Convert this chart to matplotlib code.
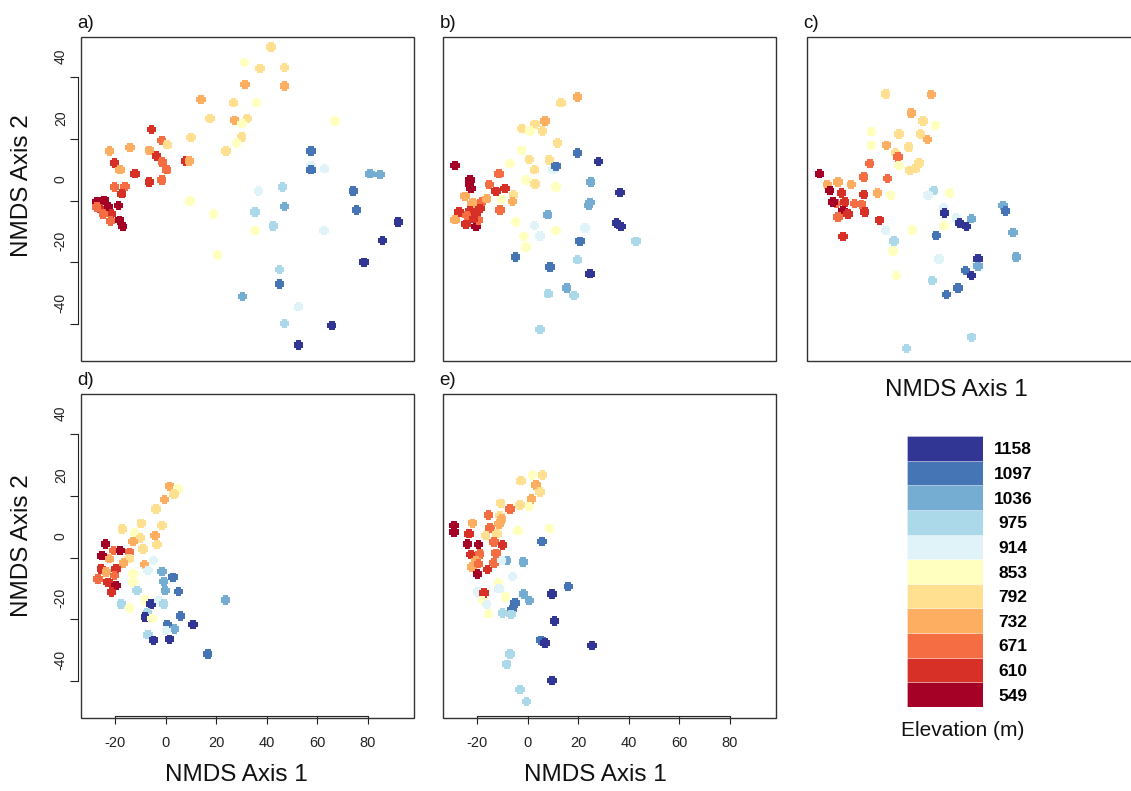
import matplotlib
matplotlib.use("Agg")
import matplotlib.pyplot as plt
import matplotlib.transforms as mtransforms
from matplotlib.patches import Rectangle
from matplotlib.path import Path

plt.rcParams['font.family'] = ['Liberation Sans', 'DejaVu Sans']
plt.rcParams['axes.unicode_minus'] = False

# elevation classes (m) and their colours (RdYlBu, low = red)
ELEV = [549, 610, 671, 732, 792, 853, 914, 975, 1036, 1097, 1158]
COLORS = ['#a50026', '#d73027', '#f46d43', '#fdae61', '#fee090', '#ffffbf',
          '#e0f3f8', '#abd9e9', '#74add1', '#4575b4', '#313695']

# panel a)
a_x = [41.7, 31.2, 37.3, 47.0, 31.4, 47.0, 14.0, 26.8, 36.0, 17.6, 27.2, 32.3, 30.2, 67.0,
       -5.5, 10.1, 30.1, 28.1, -1.5, 0.7, -22.2, -14.0, -6.4, 23.9, -3.5, -20.2, -1.3, 8.1,
       9.4, -18.0, 0.5, -12.1, -6.4, -1.5, -20.2, -16.0, -17.3, 9.7, 18.9, 20.5,
       -27.2, -24.3, -25.9, -22.6, -18.6, -21.3, -24.6, -21.7, -18.2, -16.9, -27.2,
       57.5, 57.5, 57.5, 62.8, 80.8, 84.8, 74.2, 75.5, 92.0, 85.8, 78.5, 36.7, 46.2, 47.0,
       35.4, 35.4, 42.6, 62.6, 45.0, 45.0, 30.4, 52.5, 47.0, 65.7, 52.5]
a_y = [49.8, 44.7, 42.8, 43.1, 37.6, 37.1, 32.7, 31.7, 31.7, 26.6, 26.0, 26.6, 25.0, 25.8,
       23.0, 20.4, 20.6, 18.7, 19.5, 18.1, 16.1, 17.2, 16.3, 16.1, 14.4, 12.2, 12.5, 12.8,
       12.8, 10.0, 10.0, 8.7, 6.0, 6.6, 4.4, 4.6, 2.2, -0.2, -4.3, -17.6,
       -0.5, 0.1, -2.6, -2.1, -1.6, -4.3, -4.3, -6.6, -6.4, -8.4, -2.1,
       16.1, 11.4, 10.0, 10.3, 8.7, 8.4, 3.1, -3.0, -7.0, -12.9, -20.0, 3.1, 4.4, -1.9,
       -3.7, -9.7, -8.3, -9.7, -22.4, -27.0, -31.1, -34.4, -39.8, -40.5, -46.8]
a_elev = [792, 853, 792, 792, 732, 732, 732, 792, 853, 792, 732, 792, 853, 853,
          610, 792, 792, 853, 671, 792, 732, 732, 732, 792, 610, 610, 671, 610,
          732, 732, 671, 610, 610, 671, 671, 671, 610, 853, 853, 853,
          549, 549, 610, 549, 549, 610, 671, 671, 549, 549, 671,
          1097, 914, 1097, 914, 1036, 1036, 1097, 1097, 1158, 1158, 1158, 914, 975, 1036,
          975, 853, 975, 914, 975, 1097, 1036, 914, 975, 1158, 1158]

# panel b)
b_x = [19.7, 13.2, 6.9, 3.0, -2.3, 1.0, 5.9, 11.9, -2.3, 0.7, 8.6, 19.7, 28.0, 10.0, 11.3,
       -6.9, 2.7, -28.7, -22.7, -22.4, -23.0, -11.3, -0.6, 3.0, 11.3, 25.0, -15.1, -12.5,
       -8.9, -5.6, -10.2, -5.9, 24.7, 24.2, 36.6, -24.7, -21.4, -18.1, -16.1, -22.1,
       -27.0, -22.7, -18.8, -20.1, -24.0, -28.7, -24.3, -20.4, -19.4, -21.4, -10.9,
       8.0, -4.7, 2.7, 4.9, 11.3, 22.7, 35.2, 37.0, -1.4, -0.6, 20.7, 42.9, -4.7, 8.9,
       19.7, 24.7, 8.2, 15.5, 18.4, 4.9]
b_y = [33.6, 31.7, 25.8, 24.7, 23.3, 22.5, 22.5, 18.7, 16.3, 13.3, 13.1, 15.4, 12.7, 10.0, 11.1,
       12.0, 10.0, 11.4, 6.6, 3.9, 5.2, 8.7, 6.6, 5.3, 4.4, 6.0, 5.2, 3.0,
       3.9, 1.8, 0.4, -0.3, -0.6, -1.6, 2.6, 1.4, -0.8, -0.5, 0.6, -1.0,
       -3.7, -3.2, -2.6, -4.3, -4.8, -6.2, -7.7, -8.4, -6.4, -5.9, -3.0,
       -4.6, -7.0, -8.1, -11.5, -9.7, -8.9, -7.3, -8.4, -11.6, -15.1, -13.2, -13.2, -18.3, -21.6,
       -19.2, -23.7, -30.2, -28.3, -30.8, -41.8]
b_elev = [732, 792, 732, 792, 792, 853, 792, 792, 853, 792, 792, 1097, 1158, 914, 1097,
          853, 792, 549, 549, 549, 549, 671, 853, 792, 853, 1036, 671, 610,
          610, 792, 853, 732, 1036, 1036, 1158, 732, 732, 671, 732, 732,
          610, 610, 610, 610, 671, 732, 610, 549, 671, 610, 671,
          1036, 853, 914, 914, 853, 914, 1158, 1158, 853, 853, 1097, 975, 1097, 1097,
          975, 1158, 975, 1036, 975, 975]

# panel c)
c_x = [-2.3, 15.7, 7.8, 12.4, 17.3, -8.0, 3.0, 11.5, 14.2, -8.0, -2.0, 6.8, 1.6, 2.6,
       -8.6, 3.0, 7.2, 10.9, 9.2, -28.4, -25.4, -21.1, -15.9, -11.0, -1.6, -24.4, -19.8,
       -11.0, -5.6, -0.3, 16.7, 14.4, 23.0, -21.8, -18.5, -14.6, -11.9, -23.1, -19.1,
       -21.1, -17.2, -10.6, -4.7, -19.1, 20.6, 21.0, 31.6, 25.6, 26.9, 29.6, 20.8,
       44.1, 45.1, 48.0, 49.3, -2.3, 8.2, 17.7, 1.0, 0.6, 34.2, 34.2, 29.3, 31.6,
       18.8, 1.9, 16.1, 26.3, 21.7, 31.6, 5.9]
c_y = [34.5, 34.4, 28.4, 25.8, 24.4, 22.3, 21.5, 21.5, 19.8, 17.9, 17.9, 17.4, 15.4, 14.1,
       12.0, 11.4, 9.8, 12.2, 10.3, 8.7, 5.2, 6.0, 5.2, 7.6, 7.1, 3.3, 2.4,
       2.0, 2.4, 1.7, 3.3, 1.7, 2.4, -1.0, -0.5, -1.0, -1.2, -0.5, -3.2,
       -5.3, -4.3, -3.7, -6.4, -11.6, -2.3, -4.0, -5.9, -5.6, -7.3, -8.4, -8.1,
       -1.6, -3.4, -10.4, -18.3, -9.7, -9.5, -11.3, -13.1, -16.4, -18.9, -21.3, -22.7, -24.3,
       -18.9, -24.3, -25.9, -28.3, -30.5, -44.3, -47.9]
c_elev = [792, 732, 732, 792, 853, 853, 792, 792, 732, 853, 732, 792, 792, 671,
          671, 853, 792, 792, 792, 549, 732, 732, 732, 671, 671, 549, 610,
          610, 732, 853, 975, 914, 853, 671, 610, 671, 671, 549, 549,
          671, 610, 610, 610, 610, 914, 1158, 1036, 914, 1158, 1158, 853,
          1036, 1097, 1036, 1036, 914, 853, 1097, 975, 853, 1158, 1036, 1097, 1158,
          914, 853, 975, 1097, 1097, 975, 975]

# panel d)
d_x = [1.6, 4.9, 3.3, -0.4, -3.7, -9.6, -1.4, -17.1, -12.2, -9.9, -4.1, -12.9, -3.4, -8.9,
       -23.7, -20.5, -17.9, -25.1, -14.2, -22.1, -14.5, -16.6, -4.7, -8.3, -7.0,
       -25.4, -19.5, -23.4, -20.1, -26.7, -22.7, -19.5, -21.4, -12.9, -12.9,
       -1.4, 2.9, -0.7, -0.1, 5.1, -11.2, -17.5, -14.2, -8.0, -5.7, -2.6, -0.7, 23.7,
       5.9, -7.2, -8.0, -5.3, 10.8, 0.7, 3.6, 0.3, -7.0, -4.7, 1.6, 16.7]
d_y = [23.1, 22.2, 20.6, 18.8, 15.7, 11.1, 10.4, 9.3, 8.0, 6.3, 7.1, 5.2, 4.2, 2.8,
       4.4, 2.3, 2.3, 0.6, 1.7, -0.4, -0.4, -1.8, -1.0, -2.3, -4.2,
       -3.7, -3.7, -4.7, -5.8, -6.9, -8.0, -9.1, -11.2, -5.3, -8.0,
       -4.5, -6.4, -7.8, -10.7, -11.0, -10.7, -15.0, -16.3, -13.7, -15.0, -13.9, -15.0, -13.7,
       -19.0, -18.0, -19.3, -19.8, -21.7, -21.7, -23.1, -23.6, -25.0, -26.8, -26.5, -31.2]
d_elev = [732, 853, 792, 732, 792, 792, 792, 792, 853, 792, 732, 732, 792, 792,
          549, 671, 549, 549, 671, 732, 792, 732, 914, 732, 914,
          610, 610, 732, 671, 671, 610, 549, 610, 853, 853,
          1036, 1097, 1036, 1036, 1097, 975, 975, 853, 853, 1158, 914, 975, 1036,
          1097, 975, 1158, 853, 1158, 1097, 1036, 914, 975, 1158, 1158, 1097]

# panel e)
e_x = [2.0, 5.9, -2.6, 3.3, 4.9, 1.6, -10.6, -2.9, 0.7, -7.0, -15.4, -10.9, -10.2, -21.8,
       -29.0, -29.0, -14.8, -11.2, -3.7, 8.8, -23.1, -16.5, -12.1, -23.7, -19.4, -13.2,
       -9.9, 5.7, -22.4, -18.9, -12.5, -20.4, -13.2, -22.0, -19.4, -15.8, -19.8,
       -8.2, -1.7, -10.2, -5.9, -11.5, -11.2, -19.5, -17.2, -8.8, -17.8, -16.1,
       -1.6, 0.7, -5.0, -6.2, -15.4, -9.9, -6.6, 9.6, 16.1, 10.6, 5.3, 6.9, 25.5,
       -6.9, -8.2, 9.6, -3.0, -0.4]
e_y = [26.7, 26.7, 24.9, 23.5, 21.3, 19.0, 17.6, 17.0, 16.5, 15.7, 13.8, 13.6, 12.5, 11.1,
       10.4, 8.2, 9.6, 10.9, 8.7, 9.5, 7.7, 7.1, 7.7, 4.4, 4.2, 5.0,
       4.1, 5.2, 1.0, 1.2, 1.4, -1.0, -1.8, -3.1, -2.0, -3.9, -5.3,
       -1.0, -1.5, -1.0, -6.1, -8.3, -10.1, -11.2, -11.5, -12.8, -13.9, -15.2,
       -11.8, -13.9, -14.7, -16.8, -18.2, -18.0, -18.4, -11.8, -9.4, -20.6, -26.8, -27.7, -28.5,
       -31.2, -34.6, -39.8, -42.8, -46.6]
e_elev = [853, 792, 792, 732, 792, 732, 792, 792, 853, 671, 671, 792, 732, 732,
          549, 549, 671, 732, 853, 853, 610, 792, 792, 549, 549, 671,
          610, 1097, 610, 671, 671, 732, 671, 732, 671, 610, 549,
          1036, 1036, 914, 914, 853, 914, 914, 610, 853, 853, 914,
          1036, 1036, 1097, 1097, 853, 975, 975, 1158, 1097, 1158, 1097, 1158, 1158,
          975, 975, 1158, 975, 975]

W, H = 1131, 791
fig = plt.figure(figsize=(W / 100, H / 100), dpi=100)

# chunky plus marker (arms 60% of the width)
_a, _b = 0.3, 0.5
PLUS = Path([(-_a, _b), (_a, _b), (_a, _a), (_b, _a), (_b, -_a), (_a, -_a), (_a, -_b),
             (-_a, -_b), (-_a, -_a), (-_b, -_a), (-_b, _a), (-_a, _a), (-_a, _b)])


def px_axes(left, top, right, bottom):
    return fig.add_axes([left / W, 1 - bottom / H, (right - left) / W, (bottom - top) / H])


def setup(ax, show_x, show_y):
    ax.set_xlim(-33.4, 98.2)
    ax.set_ylim(-52, 53)
    for s in ax.spines.values():
        s.set_visible(False)
    ax.add_patch(Rectangle((0, 0), 1, 1, transform=ax.transAxes, fill=False,
                           ec='#333333', lw=1.0, clip_on=False, zorder=5))
    if show_y:
        sp = ax.spines['left']
        sp.set_visible(True)
        sp.set_position(('outward', 2.2))
        sp.set_bounds(-40, 40)
        sp.set_color('#222222')
        ax.set_yticks([-40, -20, 0, 20, 40])
        ax.tick_params(axis='y', length=5.8, width=0.8, pad=1.5, labelsize=10,
                       labelrotation=90, colors='#222222')
        offset = mtransforms.ScaledTranslation(0, 0.21, fig.dpi_scale_trans)
        for t in ax.yaxis.get_major_ticks():
            t.label1.set_transform(t.label1.get_transform() + offset)
            t.label1.set_va('center')
    else:
        ax.set_yticks([])
    if show_x:
        sp = ax.spines['bottom']
        sp.set_visible(True)
        sp.set_position(('outward', -1.5))
        sp.set_bounds(-20, 80)
        sp.set_color('#222222')
        ax.set_xticks([-20, 0, 20, 40, 60, 80])
        ax.tick_params(axis='x', length=5.8, width=0.8, pad=9, labelsize=10.5, colors='#222222')
    else:
        ax.set_xticks([])


def draw(ax, xs, ys, elev):
    cols = [COLORS[ELEV.index(e)] for e in elev]
    ax.scatter(xs, ys, c=cols, marker=PLUS, s=46, linewidths=0, zorder=3)


panels = [
    (px_axes(81, 37, 414, 361), a_x, a_y, a_elev, False, True, 'a)'),
    (px_axes(443, 37, 776, 361), b_x, b_y, b_elev, False, False, 'b)'),
    (px_axes(807, 37, 1140, 361), c_x, c_y, c_elev, False, False, 'c)'),
    (px_axes(81, 394, 414, 718), d_x, d_y, d_elev, True, True, 'd)'),
    (px_axes(443, 394, 776, 718), e_x, e_y, e_elev, True, False, 'e)'),
]

for ax, xs, ys, el, sx, sy, lab in panels:
    setup(ax, sx, sy)
    draw(ax, xs, ys, el)
    ax.text(-0.01, 1.0 + 9 / 324, lab, transform=ax.transAxes, fontsize=13.5,
            ha='left', va='baseline', color='#111111')

# axis titles
for x, y in [(22, 186), (22, 546)]:
    fig.text(x / W, 1 - y / H, 'NMDS Axis 2', rotation=90, fontsize=17.5,
             ha='center', va='center', color='#111111')
for x, y in [(236, 775), (595, 775), (956, 390)]:
    fig.text(x / W, 1 - y / H, 'NMDS Axis 1', fontsize=17.5,
             ha='center', va='center', color='#111111')

# colour key
lax = px_axes(907, 436, 983, 707)
lax.barh(range(len(ELEV)), [1] * len(ELEV), height=1.0, color=COLORS,
         edgecolor=(1, 1, 1, 0.35), linewidth=0.6)
lax.set_xlim(0, 1)
lax.set_ylim(-0.5, len(ELEV) - 0.5)
for s in lax.spines.values():
    s.set_visible(False)
lax.set_xticks([])
lax.yaxis.tick_right()
lax.set_yticks(range(len(ELEV)))
lax.set_yticklabels([str(e) for e in ELEV], fontweight='bold', fontsize=12.5)
lax.tick_params(axis='y', length=0, pad=21.6)
for t in lax.get_yticklabels():
    t.set_ha('center')
fig.text(963 / W, 1 - 730 / H, 'Elevation (m)', fontsize=15, ha='center', va='center',
         color='#111111')

fig.savefig('out.png', dpi=100)
